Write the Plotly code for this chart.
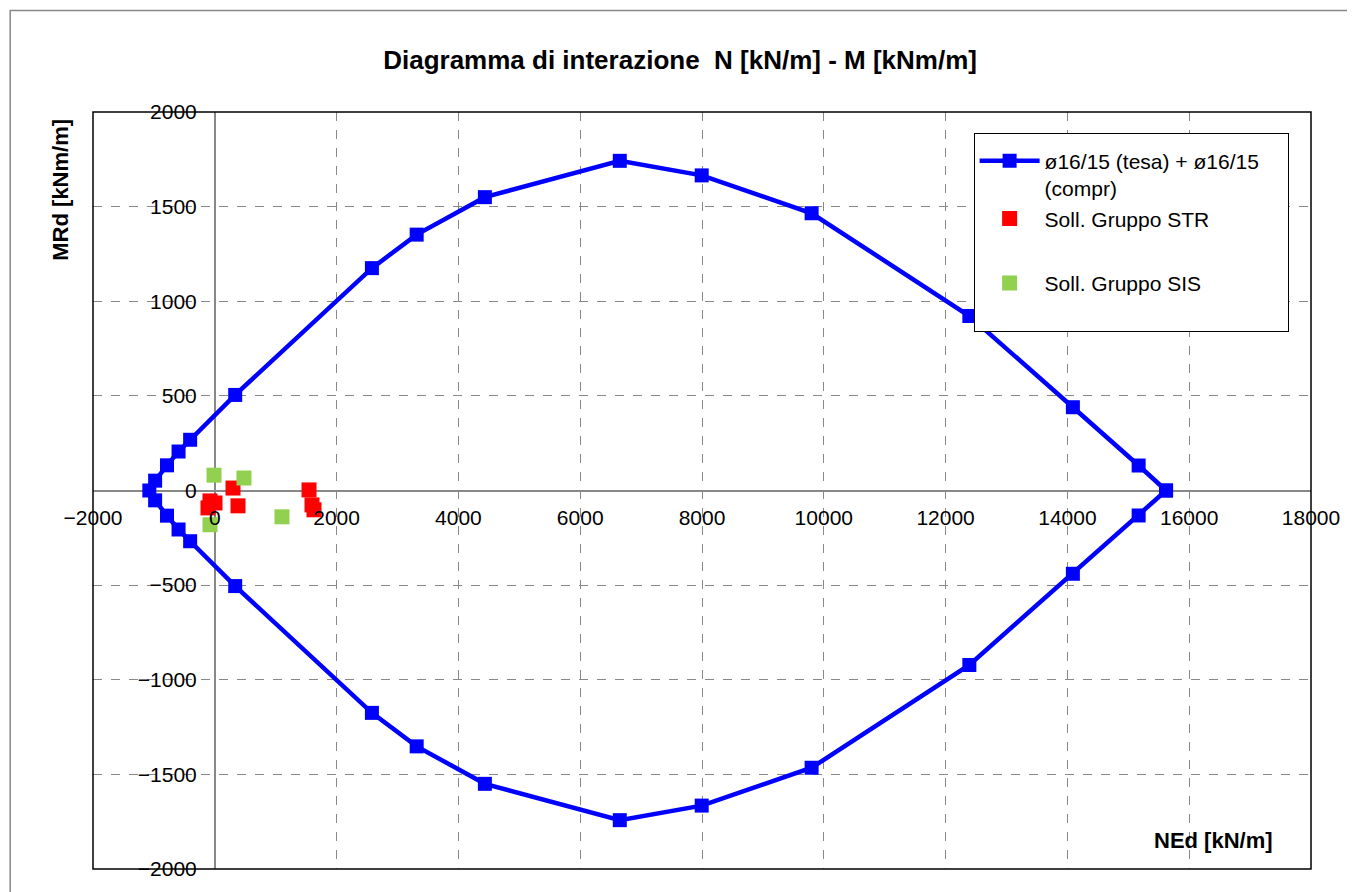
import plotly.graph_objects as go

# interaction domain N-M (closed loop)
dom_N = [15620, 15170, 14090, 12390, 9800, 7995, 6650, 4435, 3315, 2580, 335,
         -405, -595, -785, -980, -1075, -980, -785, -595, -405, 335,
         2580, 3315, 4435, 6650, 7995, 9800, 12390, 14090, 15170, 15620]
dom_M = [0, 132, 440, 922, 1465, 1665, 1742, 1550, 1352, 1175, 505,
         268, 206, 133, 52, 0, -52, -133, -206, -268, -505,
         -1175, -1352, -1550, -1742, -1665, -1465, -922, -440, -132, 0]

# design actions
str_N = [-79, 3, -112, 299, 381, 1547, 1596, 1629]
str_M = [-55, -66, -92, 13, -81, 3, -76, -102]
sis_N = [-13, 479, 1103, -79]
sis_M = [81, 66, -139, -181]

x_ticks = list(range(-2000, 18001, 2000))
y_ticks = list(range(-2000, 2001, 500))

FONT = "Liberation Sans, Arial, sans-serif"

fig = go.Figure()
fig.add_trace(go.Scatter(
    x=dom_N, y=dom_M, mode='lines+markers',
    name='ø16/15 (tesa) + ø16/15&nbsp;&nbsp;&nbsp;&nbsp;<br>(compr)',
    line=dict(color='#0000FF', width=4.5),
    marker=dict(symbol='square', size=14, color='#0000FF'),
    legendgroup='a'
))
fig.add_trace(go.Scatter(
    x=str_N, y=str_M, mode='markers', name='Soll. Gruppo STR<br> ',
    marker=dict(symbol='square', size=15, color='#FF0000'),
    legendgroup='a'
))
fig.add_trace(go.Scatter(
    x=sis_N, y=sis_M, mode='markers', name='Soll. Gruppo SIS<br> ',
    marker=dict(symbol='square', size=15, color='#92D050'),
    legendgroup='b'
))

axis_common = dict(
    showgrid=True, gridcolor='#888888', griddash='dash', gridwidth=1,
    zeroline=True, zerolinecolor='#888888', zerolinewidth=1.5,
    showline=False, ticks='', tickformat='.0f',
    tickfont=dict(size=21, color='black', family=FONT),
    anchor='free'
)

# page body has an 8px margin: figure is shifted accordingly
fig.update_layout(
    width=1347, height=884,
    paper_bgcolor='white', plot_bgcolor='white',
    margin=dict(l=85, r=44, t=104, b=19),
    font=dict(family=FONT, color='black'),
    xaxis=dict(range=[-2000, 18000], tickvals=x_ticks, position=0.5,
               ticklabelstandoff=12, **axis_common),
    yaxis=dict(range=[-2000, 2000], tickvals=y_ticks, position=0.1,
               ticklabelstandoff=18, **axis_common),
    title=dict(text='<b>Diagramma di interazione  N [kN/m] - M [kNm/m]</b>',
               font=dict(size=26, family=FONT, color='black'),
               x=0.482, xref='paper', xanchor='center',
               y=1 - 52 / 884, yanchor='middle'),
    legend=dict(x=0.723, y=0.972, xanchor='left', yanchor='top',
                bgcolor='white', bordercolor='black', borderwidth=1,
                font=dict(size=21, family=FONT, color='black'),
                title=dict(text=' ', font=dict(size=5)),
                itemwidth=60, valign='top', tracegroupgap=7),
    showlegend=True,
)

# plot area border and chart border
fig.add_shape(type='rect', xref='x domain', yref='y domain', x0=0, y0=0, x1=1, y1=1,
              line=dict(color='black', width=1.5), layer='above')
fig.add_shape(type='rect', xref='paper', yref='paper', x0=-0.068, y0=-0.05, x1=1.05, y1=1.134,
              line=dict(color='#888888', width=1.5), layer='below')

fig.add_annotation(text='<b>NEd [kN/m]</b>', xref='paper', yref='paper', x=0.92, y=0.037,
                   xanchor='center', yanchor='middle',
                   showarrow=False, font=dict(size=22, family=FONT, color='black'))
fig.add_annotation(text='<b>MRd [kNm/m]</b>', xref='paper', yref='paper', x=-0.027, y=0.8975,
                   xanchor='center', yanchor='middle', textangle=-90,
                   showarrow=False, font=dict(size=22, family=FONT, color='black'))

fig.write_html("out.html")
